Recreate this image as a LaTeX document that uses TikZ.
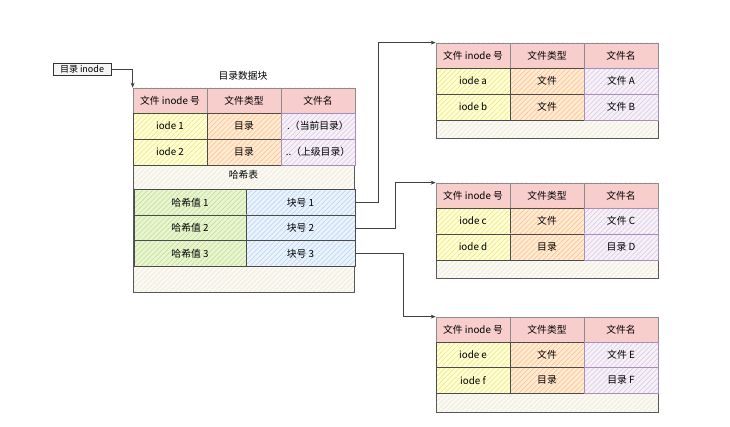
\documentclass[tikz,border=0pt]{standalone}
\usepackage{fontspec}
\setmainfont{Noto Sans CJK SC}
\usetikzlibrary{arrows.meta,patterns.meta}
\definecolor{hdrPink}{HTML}{F8CECC}
\definecolor{inoBg}{HTML}{FFFFE0}
\definecolor{inoLn}{HTML}{F2EC6E}
\definecolor{typBg}{HTML}{FFEBD6}
\definecolor{typLn}{HTML}{FFC58A}
\definecolor{namBg}{HTML}{F6F2F8}
\definecolor{namLn}{HTML}{DCCCE6}
\definecolor{namBd}{HTML}{A88CBA}
\definecolor{hshBg}{HTML}{EAF5D6}
\definecolor{hshLn}{HTML}{C2E38C}
\definecolor{blkBg}{HTML}{EBF3FC}
\definecolor{blkLn}{HTML}{BCD6F5}
\definecolor{padBg}{HTML}{FAF9F3}
\definecolor{padLn}{HTML}{EFEBD8}
\tikzset{
  cell/.style={draw=black!70, line width=0.7pt, minimum width=74pt, minimum height=26pt,
    inner sep=0pt, font=\fontsize{9.8}{12}\selectfont},
  hatch/.style 2 args={preaction={fill=#1}, pattern={Lines[angle=45,distance=3.5pt,line width=0.7pt]}, pattern color=#2},
  hdr/.style={cell, fill=hdrPink, draw=black!45, minimum height=25pt},
  ino/.style={cell, hatch={inoBg}{inoLn}},
  typ/.style={cell, hatch={typBg}{typLn}},
  nam/.style={cell, hatch={namBg}{namLn}, draw=namBd},
  hsh/.style={cell, hatch={hshBg}{hshLn}, minimum width=112pt},
  blk/.style={cell, hatch={blkBg}{blkLn}, minimum width=109pt},
  pad/.style={draw=black!65, line width=0.7pt, hatch={padBg}{padLn}, inner sep=0pt},
  lbl/.style={font=\fontsize{9.8}{12}\selectfont},
  link/.style={->, draw=black!75, line width=0.7pt},
}
\begin{document}
\begin{tikzpicture}[x=1pt,y=-1pt,>={Stealth[length=5pt,width=4pt]}]
\useasboundingbox[fill=white] (0,0) rectangle (730,427);
% directory block
\node[pad, minimum width=221pt, minimum height=204pt] (dir) at (243.5,190) {};
\node[lbl] (dirT) at (243,76) {目录数据块};
\node[hdr] (dh1) at (170,100.5) {文件 inode 号};
\node[hdr] (dh2) at (244,100.5) {文件类型};
\node[hdr] (dh3) at (318,100.5) {文件名};
\node[ino] (da1) at (170,126) {iode 1};
\node[typ] (da2) at (244,126) {目录};
\node[nam] (da3) at (318,126) {.（当前目录）};
\node[ino] (db1) at (170,152) {iode 2};
\node[typ] (db2) at (244,152) {目录};
\node[nam] (db3) at (318,152) {..（上级目录）};
\node[lbl] (hashT) at (243.5,175) {哈希表};
\node[hsh] (h1) at (190,202.5) {哈希值 1};
\node[blk] (b1) at (300.5,202.5) {块号 1};
\node[hsh] (h2) at (190,228) {哈希值 2};
\node[blk] (b2) at (300.5,228) {块号 2};
\node[hsh] (h3) at (190,253.5) {哈希值 3};
\node[blk] (b3) at (300.5,253.5) {块号 3};
\node[draw=black!80, line width=0.7pt, fill=black!4, minimum width=58pt, minimum height=12pt,
  inner sep=0pt, font=\fontsize{9}{10}\selectfont] (dirIno) at (82,69) {目录 inode};
% block 1
\node[pad, minimum width=222pt, minimum height=95pt] (t1) at (547,90.5) {};
\node[hdr] (t1h1) at (473,55.5) {文件 inode 号};
\node[hdr] (t1h2) at (547,55.5) {文件类型};
\node[hdr] (t1h3) at (621,55.5) {文件名};
\node[ino] (t1a1) at (473,81) {iode a};
\node[typ] (t1a2) at (547,81) {文件};
\node[nam] (t1a3) at (621,81) {文件 A};
\node[ino] (t1b1) at (473,107) {iode b};
\node[typ] (t1b2) at (547,107) {文件};
\node[nam] (t1b3) at (621,107) {文件 B};
% block 2
\node[pad, minimum width=222pt, minimum height=95pt] (t2) at (547,230.5) {};
\node[hdr] (t2h1) at (473,195.5) {文件 inode 号};
\node[hdr] (t2h2) at (547,195.5) {文件类型};
\node[hdr] (t2h3) at (621,195.5) {文件名};
\node[ino] (t2a1) at (473,221) {iode c};
\node[typ] (t2a2) at (547,221) {文件};
\node[nam] (t2a3) at (621,221) {文件 C};
\node[ino] (t2b1) at (473,247) {iode d};
\node[typ] (t2b2) at (547,247) {目录};
\node[nam] (t2b3) at (621,247) {目录 D};
% block 3
\node[pad, minimum width=222pt, minimum height=95pt] (t3) at (547,364.5) {};
\node[hdr] (t3h1) at (473,329.5) {文件 inode 号};
\node[hdr] (t3h2) at (547,329.5) {文件类型};
\node[hdr] (t3h3) at (621,329.5) {文件名};
\node[ino] (t3a1) at (473,355) {iode e};
\node[typ] (t3a2) at (547,355) {文件};
\node[nam] (t3a3) at (621,355) {文件 E};
\node[ino] (t3b1) at (473,380.5) {iode f};
\node[typ] (t3b2) at (547,380.5) {目录};
\node[nam] (t3b3) at (621,380.5) {目录 F};
% links
\draw[link] (dirIno.east) -| (dir.north west);
\draw[link] (b1.east) -- ++(23,0) |- (t1.north west);
\draw[link] (b2.east) -- ++(40,0) |- (t2.north west);
\draw[link] (b3.east) -- ++(48,0) |- (t3.north west);
\end{tikzpicture}
\end{document}
